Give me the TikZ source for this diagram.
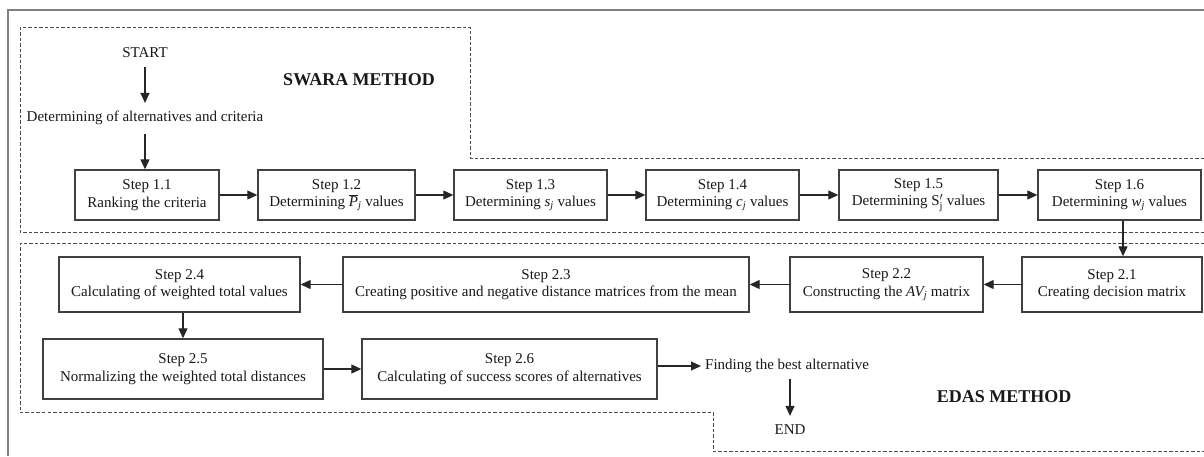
\documentclass[tikz,border=0pt]{standalone}
\usepackage{fontspec}
\setmainfont{Liberation Serif}
\usetikzlibrary{arrows.meta}
\begin{document}
\begin{tikzpicture}[x=1pt,y=-1pt,
  stepbox/.style={draw=black!75, line width=1.4pt, inner sep=0pt, align=center,
    font=\fontsize{15}{17.5}\selectfont, text=black!90},
  plain/.style={inner sep=0pt, font=\fontsize{15}{17.5}\selectfont, text=black!90},
  title/.style={inner sep=0pt, font=\fontsize{18}{20}\selectfont\bfseries, text=black!90},
  conn/.style={draw=black!85, line width=1.2pt, -{Triangle[length=10pt,width=9pt]}},
  region/.style={draw=black!70, line width=0.9pt, dash pattern=on 3.5pt off 2pt},
  frame/.style={draw=black!50, line width=1.8pt}]
\useasboundingbox (0,0) rectangle (1204,456);
\fill[white] (0,0) rectangle (1204,456);
% outer frame
\draw[frame] (8,456) -- (8,10) -- (1204,10);
% regions
\draw[region] (1204,158) -- (470,158) -- (470,27) -- (20,27) -- (20,232) -- (1204,232);
\draw[region] (1204,243) -- (20,243) -- (20,412) -- (713,412) -- (713,451) -- (1204,451);
% texts
\node[plain] (start) at (145,53) {START};
\node[plain] (det) at (145,118) {Determining of alternatives and criteria};
\node[title] (swara) at (359,80) {SWARA METHOD};
\node[title] (edas) at (1004,397) {EDAS METHOD};
% SWARA steps
\node[stepbox, minimum width=144, minimum height=50] (s11) at (147,195) {Step 1.1\\Ranking the criteria};
\node[stepbox, minimum width=157, minimum height=50] (s12) at (336.5,195) {Step 1.2\\Determining $\overline{\textit{P}}$\textsubscript{\textit{j}} values};
\node[stepbox, minimum width=153, minimum height=50] (s13) at (530.5,195) {Step 1.3\\Determining \textit{s\textsubscript{j}} values};
\node[stepbox, minimum width=153, minimum height=50] (s14) at (722.5,195) {Step 1.4\\Determining \textit{c\textsubscript{j}} values};
\node[stepbox, minimum width=159, minimum height=50] (s15) at (918.5,195) {Step 1.5\\Determining S$^{\prime}_{\mathrm{j}}$ values};
\node[stepbox, minimum width=163, minimum height=50] (s16) at (1119.5,195) {Step 1.6\\Determining \textit{w\textsubscript{j}} values};
% EDAS steps
\node[stepbox, minimum width=180, minimum height=55] (s21) at (1112,284.5) {Step 2.1\\Creating decision matrix};
\node[stepbox, minimum width=193, minimum height=55] (s22) at (886.5,284.5) {Step 2.2\\Constructing the \textit{AV\textsubscript{j}} matrix};
\node[stepbox, minimum width=406, minimum height=55] (s23) at (546,284.5) {Step 2.3\\Creating positive and negative distance matrices from the mean};
\node[stepbox, minimum width=241, minimum height=55] (s24) at (179.5,284.5) {Step 2.4\\Calculating of weighted total values};
\node[stepbox, minimum width=280, minimum height=60] (s25) at (183,369) {Step 2.5\\Normalizing the weighted total distances};
\node[stepbox, minimum width=295, minimum height=60] (s26) at (509.5,369) {Step 2.6\\Calculating of success scores of alternatives};
\node[plain, anchor=west] (find) at (705,366) {Finding the best alternative};
\node[plain] (endn) at (790,430) {END};
\coordinate (fdown) at (790,379);
% connectors
\draw[conn] ([yshift=-9pt]start.south) -- ([yshift=8pt]det.north);
\draw[conn] ([yshift=-9pt]det.south) -- (det.south |- s11.north);
\draw[conn] (s11) -- (s12);
\draw[conn] (s12) -- (s13);
\draw[conn] (s13) -- (s14);
\draw[conn] (s14) -- (s15);
\draw[conn] (s15) -- (s16);
\draw[conn] ([xshift=3.5pt]s16.south) -- ([xshift=3.5pt]s16.south |- s21.north);
\draw[conn] (s21) -- (s22);
\draw[conn] (s22) -- (s23);
\draw[conn] (s23) -- (s24);
\draw[conn] ([xshift=3.5pt]s24.south) -- ([xshift=3.5pt]s24.south |- s25.north);
\draw[conn] (s25) -- (s26);
\draw[conn] (s26.east |- find.west) -- ([xshift=-4pt]find.west);
\draw[conn] (fdown) -- ([yshift=9pt]endn.north);
\end{tikzpicture}
\end{document}
